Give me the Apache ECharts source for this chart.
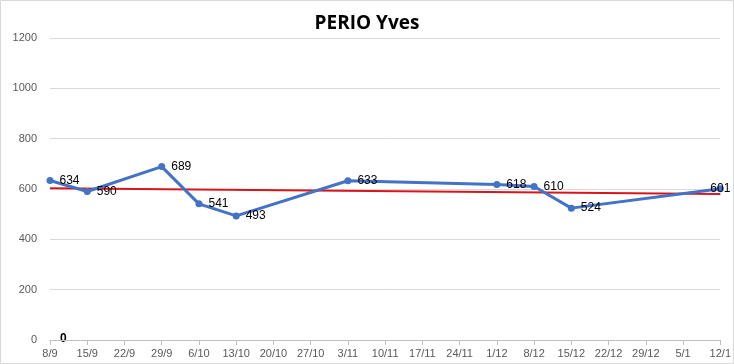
<!DOCTYPE html>
<html><head><meta charset="utf-8">
<script src="https://cdn.jsdelivr.net/npm/echarts@6/dist/echarts.min.js"></script>
<style>html,body{margin:0;padding:0;background:#fff}#c{width:734px;height:364px}</style>
</head><body><div id="c"></div>
<script>
const categories = ['8/9','15/9','22/9','29/9','6/10','13/10','20/10','27/10','3/11','10/11','17/11','24/11','1/12','8/12','15/12','22/12','29/12','5/1','12/1'];
const values = [634,590,null,689,541,493,null,null,633,null,null,null,618,610,524,null,null,null,601];
const trend = [603,null,null,null,null,null,null,null,null,null,null,null,null,null,null,null,null,null,580];
const yTicks = [0,200,400,600,800,1000,1200];

const lineData = values.map((v,i)=> (i===values.length-1 && v!=null)
  ? {value:v,label:{position:'inside',offset:[0,0]}} : v);

const chart = echarts.init(document.getElementById('c'));
chart.setOption({
  animation:false,
  backgroundColor:'#fff',
  title:{text:'PERIO Yves',left:'center',top:9,textStyle:{fontFamily:'Open Sans',fontSize:19,fontWeight:'bold',color:'#000'}},
  grid:{left:50,right:12,top:38,bottom:24},
  xAxis:{type:'category',data:categories,boundaryGap:false,
    axisLine:{lineStyle:{color:'#bfbfbf'}},
    axisTick:{show:true,alignWithLabel:true,length:5,lineStyle:{color:'#bfbfbf'}},
    axisLabel:{color:'#595959',fontFamily:'Liberation Sans',fontSize:11,margin:8,interval:0},
    splitLine:{show:false}},
  yAxis:{type:'value',min:yTicks[0],max:yTicks[yTicks.length-1],interval:200,
    axisLine:{show:false},axisTick:{show:false},
    axisLabel:{color:'#595959',fontFamily:'Liberation Sans',fontSize:11,margin:13,formatter:v=>String(v)},
    splitLine:{lineStyle:{color:'#d9d9d9'}}},
  series:[
    {type:'line',data:trend,connectNulls:true,symbol:'none',z:3,
      lineStyle:{color:'#d9151b',width:2}},
    {type:'line',data:lineData,connectNulls:true,symbol:'circle',symbolSize:7,z:4,
      itemStyle:{color:'#4472C4'},lineStyle:{color:'#4472C4',width:3},
      label:{show:true,position:'right',distance:6,color:'#000',fontFamily:'Liberation Sans',fontSize:12}}
  ],
  graphic:[
    {type:'rect',shape:{x:0.5,y:0.5,width:733,height:363},style:{fill:'none',stroke:'#d9d9d9',lineWidth:1}},
    {type:'text',left:60,top:333,style:{text:'0',fontFamily:'Liberation Sans',fontWeight:'bold',fontSize:12,fill:'#000'}}
  ]
});
</script></body></html>
